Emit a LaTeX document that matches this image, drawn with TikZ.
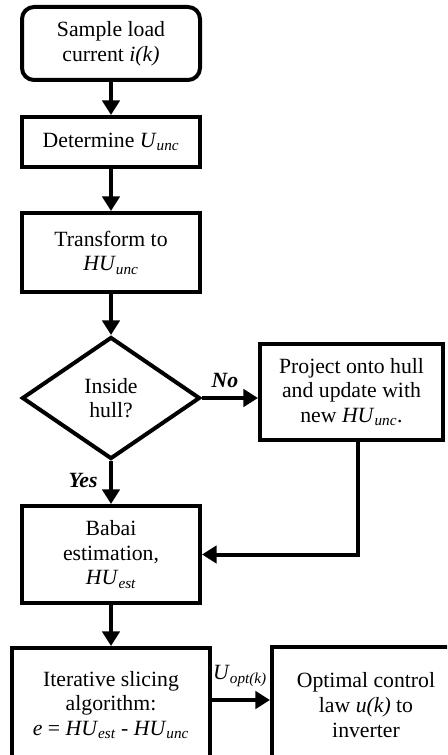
\documentclass[tikz,border=0pt]{standalone}
\usepackage{fontspec}
\setmainfont{Liberation Serif}
\usetikzlibrary{arrows.meta,shapes.geometric}
\tikzset{
  box/.style={draw,line width=3pt,inner sep=0pt,align=center,font=\fontsize{16.3}{18.5}\selectfont},
  rbox/.style={box,rounded corners=9pt},
  dia/.style={box,shape=diamond,aspect=1.46},
  conn/.style={line width=3pt,-{Triangle[width=13pt,length=11pt]}},
  lbl/.style={font=\fontsize{16.3}{18.5}\selectfont,inner sep=0pt}
}
\newcommand{\sbs}[1]{\textsubscript{\itshape #1}}
\begin{document}
\begin{tikzpicture}[x=0.75pt,y=-0.75pt]
\useasboundingbox (0,0) rectangle (447,755);
\clip (0,0) rectangle (447,755);
\node[rbox,minimum width=133.5pt,minimum height=54.75pt] (b1) at (111,43.5) {Sample load\\current \textit{i(k)}};
\node[box,minimum width=133.5pt,minimum height=37.5pt] (b2) at (111,142) {Determine \textit{U}\sbs{unc}};
\node[box,minimum width=133pt,minimum height=59.25pt] (b3) at (111,252.5) {Transform to\\\textit{HU}\sbs{unc}};
\node[dia,minimum width=133.5pt,minimum height=91.5pt] (d) at (111,398) {Inside\\hull?};
\node[box,minimum width=137.25pt,minimum height=72pt] (b4) at (351.5,392) {Project onto hull\\and update with\\new \textit{HU}\sbs{unc}.};
\node[box,minimum width=133.5pt,minimum height=72.75pt] (b5) at (111,554.5) {Babai\\estimation,\\\textit{HU}\sbs{est}};
\node[box,minimum width=148.5pt,minimum height=85.5pt] (b6) at (111,705) {Iterative slicing\\algorithm:\\\textit{e} = \textit{HU}\sbs{est} - \textit{HU}\sbs{unc}};
\node[box,minimum width=141pt,minimum height=87pt] (b7) at (366,705) {Optimal control\\law \textit{u(k)} to\\inverter};
\draw[conn] (b1) -- (b2);
\draw[conn] (b2) -- (b3);
\draw[conn] (b3) -- (d);
\draw[conn] (d.east) -- (d.east -| b4.west);
\draw[conn] (d) -- (b5);
\draw[conn] ([xshift=4.5pt]b4.south) |- (b5.east);
\draw[conn] (b5) -- (b6);
\draw[conn] ([yshift=3.75pt]b6.east) -- ([yshift=3.75pt]b7.west);
\node[lbl] (no) at (225,380) {\textbf{\textit{No}}};
\node[lbl] (yes) at (83,480) {\textbf{\textit{Yes}}};
\node[lbl] (uopt) at (240,676) {\textit{U}\sbs{opt(k)}};
\end{tikzpicture}
\end{document}
